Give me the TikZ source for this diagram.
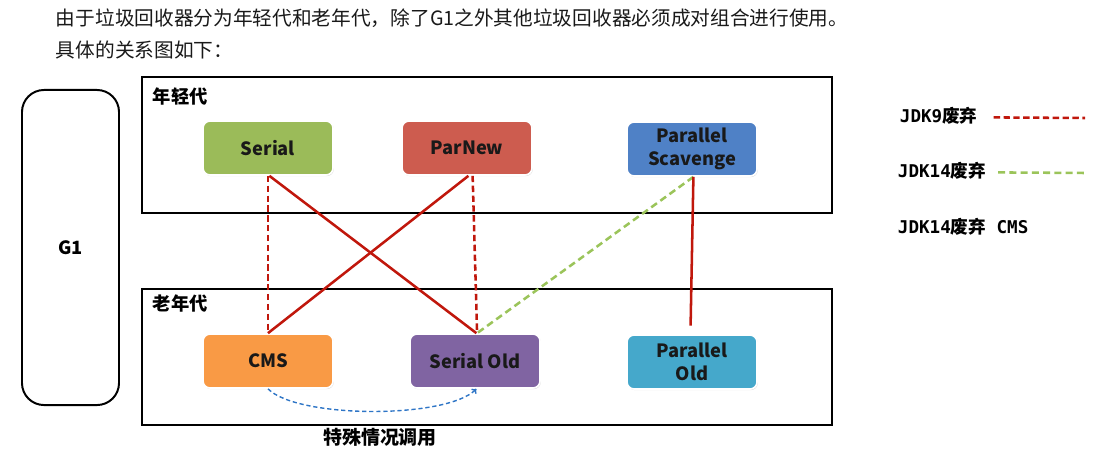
\documentclass[tikz,border=0pt]{standalone}
\usepackage{fontspec}
\setmainfont{Noto Sans CJK SC}
\newfontfamily\legendmono{DejaVu Sans Mono}
\usetikzlibrary{shadows,arrows.meta}

\definecolor{serialgreen}{HTML}{9BBB59}
\definecolor{parnewred}{HTML}{CD5C4F}
\definecolor{scavblue}{HTML}{4F81C6}
\definecolor{cmsorange}{HTML}{F99A45}
\definecolor{oldpurple}{HTML}{8064A2}
\definecolor{paroldteal}{HTML}{45A8CB}
\definecolor{linkred}{HTML}{C0170C}
\definecolor{linkgreen}{HTML}{9BC45A}
\definecolor{linkblue}{HTML}{2E75C6}

\tikzset{
  gc/.style={rounded corners=5pt,draw=white,line width=1.2pt,
    minimum width=3.25cm,minimum height=1.35cm,align=center,
    font=\bfseries\fontsize{13}{16}\selectfont,text=black!90,
    drop shadow={opacity=0.25,shadow xshift=0.6pt,shadow yshift=-0.8pt}},
  genbox/.style={draw=black,line width=1.4pt,minimum width=17.25cm,minimum height=3.4cm},
  genlabel/.style={anchor=west,font=\bfseries\fontsize{13}{16}\selectfont},
  fixedpair/.style={draw=linkred,line width=1.8pt},
  jdknine/.style={draw=linkred,line width=1.8pt,dash pattern=on 4.5pt off 2.5pt},
  jdkfourteen/.style={draw=linkgreen,line width=1.8pt,dash pattern=on 5pt off 3pt},
  special/.style={draw=linkblue,line width=1pt,dash pattern=on 3pt off 2pt},
  legendtext/.style={anchor=west,font=\bfseries\fontsize{12.5}{15}\selectfont},
  introtext/.style={anchor=west,font=\fontsize{14}{16}\selectfont,text=black!90},
}

\begin{document}
\begin{tikzpicture}[x=0.025cm,y=-0.025cm]
\useasboundingbox (0,0) rectangle (1100,450);

% intro text
\node[introtext] (intro) at (51,18)
  {由于垃圾回收器分为年轻代和老年代，除了G1之外其他垃圾回收器必须成对组合进行使用。};
\node[introtext] (intro2) at (51,50) {具体的关系图如下：};

% G1 and generations
\node[draw=black,line width=1.4pt,rounded corners=0.55cm,minimum width=2.425cm,
  minimum height=7.875cm,font=\bfseries\fontsize{13}{16}\selectfont] (g1) at (70.5,247.5) {G1};
\node[genbox] (young) at (487,145) {};
\node[genbox] (old) at (487,357) {};
\node[genlabel] (younglabel) at (148,97) {年轻代};
\node[genlabel] (oldlabel) at (148,304) {老年代};

% collectors
\node[gc,fill=serialgreen] (serial) at (268,148) {Serial};
\node[gc,fill=parnewred] (parnew) at (467,148) {ParNew};
\node[gc,fill=scavblue] (scavenge) at (692,149) {Parallel\\Scavenge};
\node[gc,fill=cmsorange] (cms) at (268,361) {CMS};
\node[gc,fill=oldpurple] (serialold) at (475,361) {Serial Old};
\node[gc,fill=paroldteal] (parold) at (692,362) {Parallel\\Old};

% combinations
\draw[jdknine] (serial.south) -- (cms.north);
\draw[fixedpair] ([xshift=1pt]serial.south) -- ([xshift=1pt]serialold.north);
\draw[fixedpair] ([xshift=1pt]parnew.south) -- (cms.north);
\draw[jdknine] ([xshift=4pt]parnew.south) -- ([xshift=1.5pt]serialold.north);
\draw[jdkfourteen] ([xshift=1pt]scavenge.south) -- ([xshift=1.5pt]serialold.north);
\draw[fixedpair] ([xshift=1pt]scavenge.south) -- ([xshift=-1pt,yshift=6pt]parold.north);
\draw[special,-{To[length=3pt,width=5pt]}] (cms.south) .. controls +(30,30) and +(-30,30) .. ([xshift=1pt]serialold.south);
\node[font=\bfseries\fontsize{13.5}{15}\selectfont] (speciallabel) at (380,437) {特殊情况调用};

% legend
\node[legendtext] (legnine) at (895,116) {{\legendmono JDK9}废弃};
\coordinate (legnineend) at (1085,118);
\draw[jdknine] ([xshift=8pt,yshift=-1pt]legnine.east) -- (legnineend);
\node[legendtext] (legfourteen) at (893,171) {{\legendmono JDK14}废弃};
\coordinate (legfourteenend) at (1086,173);
\draw[jdkfourteen] ([xshift=5pt,yshift=-1pt]legfourteen.east) -- (legfourteenend);
\node[legendtext] (legcms) at (893,227) {{\legendmono JDK14}废弃{\legendmono\ CMS}};
\end{tikzpicture}
\end{document}
